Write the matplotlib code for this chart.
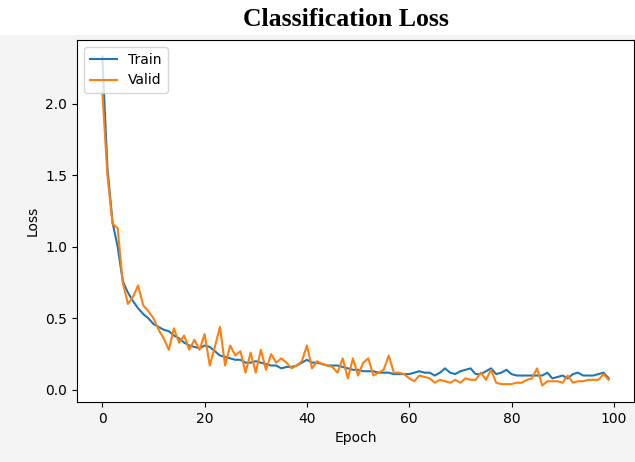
import matplotlib.pyplot as plt
import numpy as np

# loss values, one per epoch (0..99)
train_loss = [2.33, 1.55, 1.17, 1.00, 0.76, 0.68, 0.62, 0.57, 0.53, 0.50,
              0.46, 0.44, 0.42, 0.41, 0.38, 0.36, 0.33, 0.31, 0.30, 0.29,
              0.31, 0.30, 0.27, 0.24, 0.23, 0.22, 0.21, 0.21, 0.19, 0.19,
              0.20, 0.19, 0.18, 0.17, 0.17, 0.15, 0.16, 0.16, 0.17, 0.19,
              0.21, 0.19, 0.19, 0.18, 0.17, 0.17, 0.17, 0.16, 0.15, 0.14,
              0.14, 0.13, 0.13, 0.13, 0.12, 0.12, 0.12, 0.11, 0.11, 0.11,
              0.11, 0.12, 0.13, 0.12, 0.12, 0.10, 0.12, 0.15, 0.12, 0.11,
              0.13, 0.14, 0.15, 0.11, 0.11, 0.13, 0.15, 0.11, 0.12, 0.14,
              0.11, 0.10, 0.10, 0.10, 0.10, 0.10, 0.10, 0.12, 0.08, 0.09,
              0.10, 0.08, 0.11, 0.12, 0.10, 0.10, 0.10, 0.11, 0.12, 0.08]

valid_loss = [2.08, 1.50, 1.16, 1.13, 0.75, 0.60, 0.65, 0.73, 0.59, 0.55,
              0.50, 0.42, 0.36, 0.28, 0.43, 0.33, 0.38, 0.28, 0.35, 0.28,
              0.39, 0.17, 0.30, 0.44, 0.17, 0.31, 0.24, 0.27, 0.12, 0.26,
              0.12, 0.28, 0.14, 0.25, 0.19, 0.22, 0.19, 0.15, 0.17, 0.20,
              0.31, 0.15, 0.20, 0.18, 0.17, 0.16, 0.12, 0.22, 0.08, 0.22,
              0.10, 0.19, 0.22, 0.10, 0.12, 0.14, 0.24, 0.12, 0.12, 0.11,
              0.08, 0.06, 0.10, 0.09, 0.08, 0.05, 0.07, 0.06, 0.05, 0.07,
              0.05, 0.08, 0.07, 0.07, 0.12, 0.07, 0.14, 0.05, 0.04, 0.04,
              0.04, 0.05, 0.05, 0.07, 0.08, 0.15, 0.03, 0.06, 0.06, 0.06,
              0.05, 0.10, 0.05, 0.06, 0.06, 0.07, 0.07, 0.07, 0.11, 0.07]

epochs = np.arange(len(train_loss))

fig = plt.figure(figsize=(6.35, 4.62), dpi=100, facecolor='#f4f4f4')
# white strip behind the title
fig.patches.append(plt.Rectangle((0, 1 - 35 / 462), 1, 35 / 462, transform=fig.transFigure,
                                 facecolor='white', edgecolor='none', zorder=0))
ax = fig.add_axes([77 / 635, 60 / 462, 557 / 635, 362 / 462])

ax.plot(epochs, train_loss, label='Train')
ax.plot(epochs, valid_loss, label='Valid')
ax.set_xlabel('Epoch')
ax.set_ylabel('Loss')
ax.legend(loc='upper left')

fig.text(346 / 635, 1 - 20 / 462, 'Classification Loss', ha='center', va='center',
         fontsize=18.5, fontweight='bold', family='Liberation Serif')

fig.savefig('out.png', dpi=100, facecolor=fig.get_facecolor())
